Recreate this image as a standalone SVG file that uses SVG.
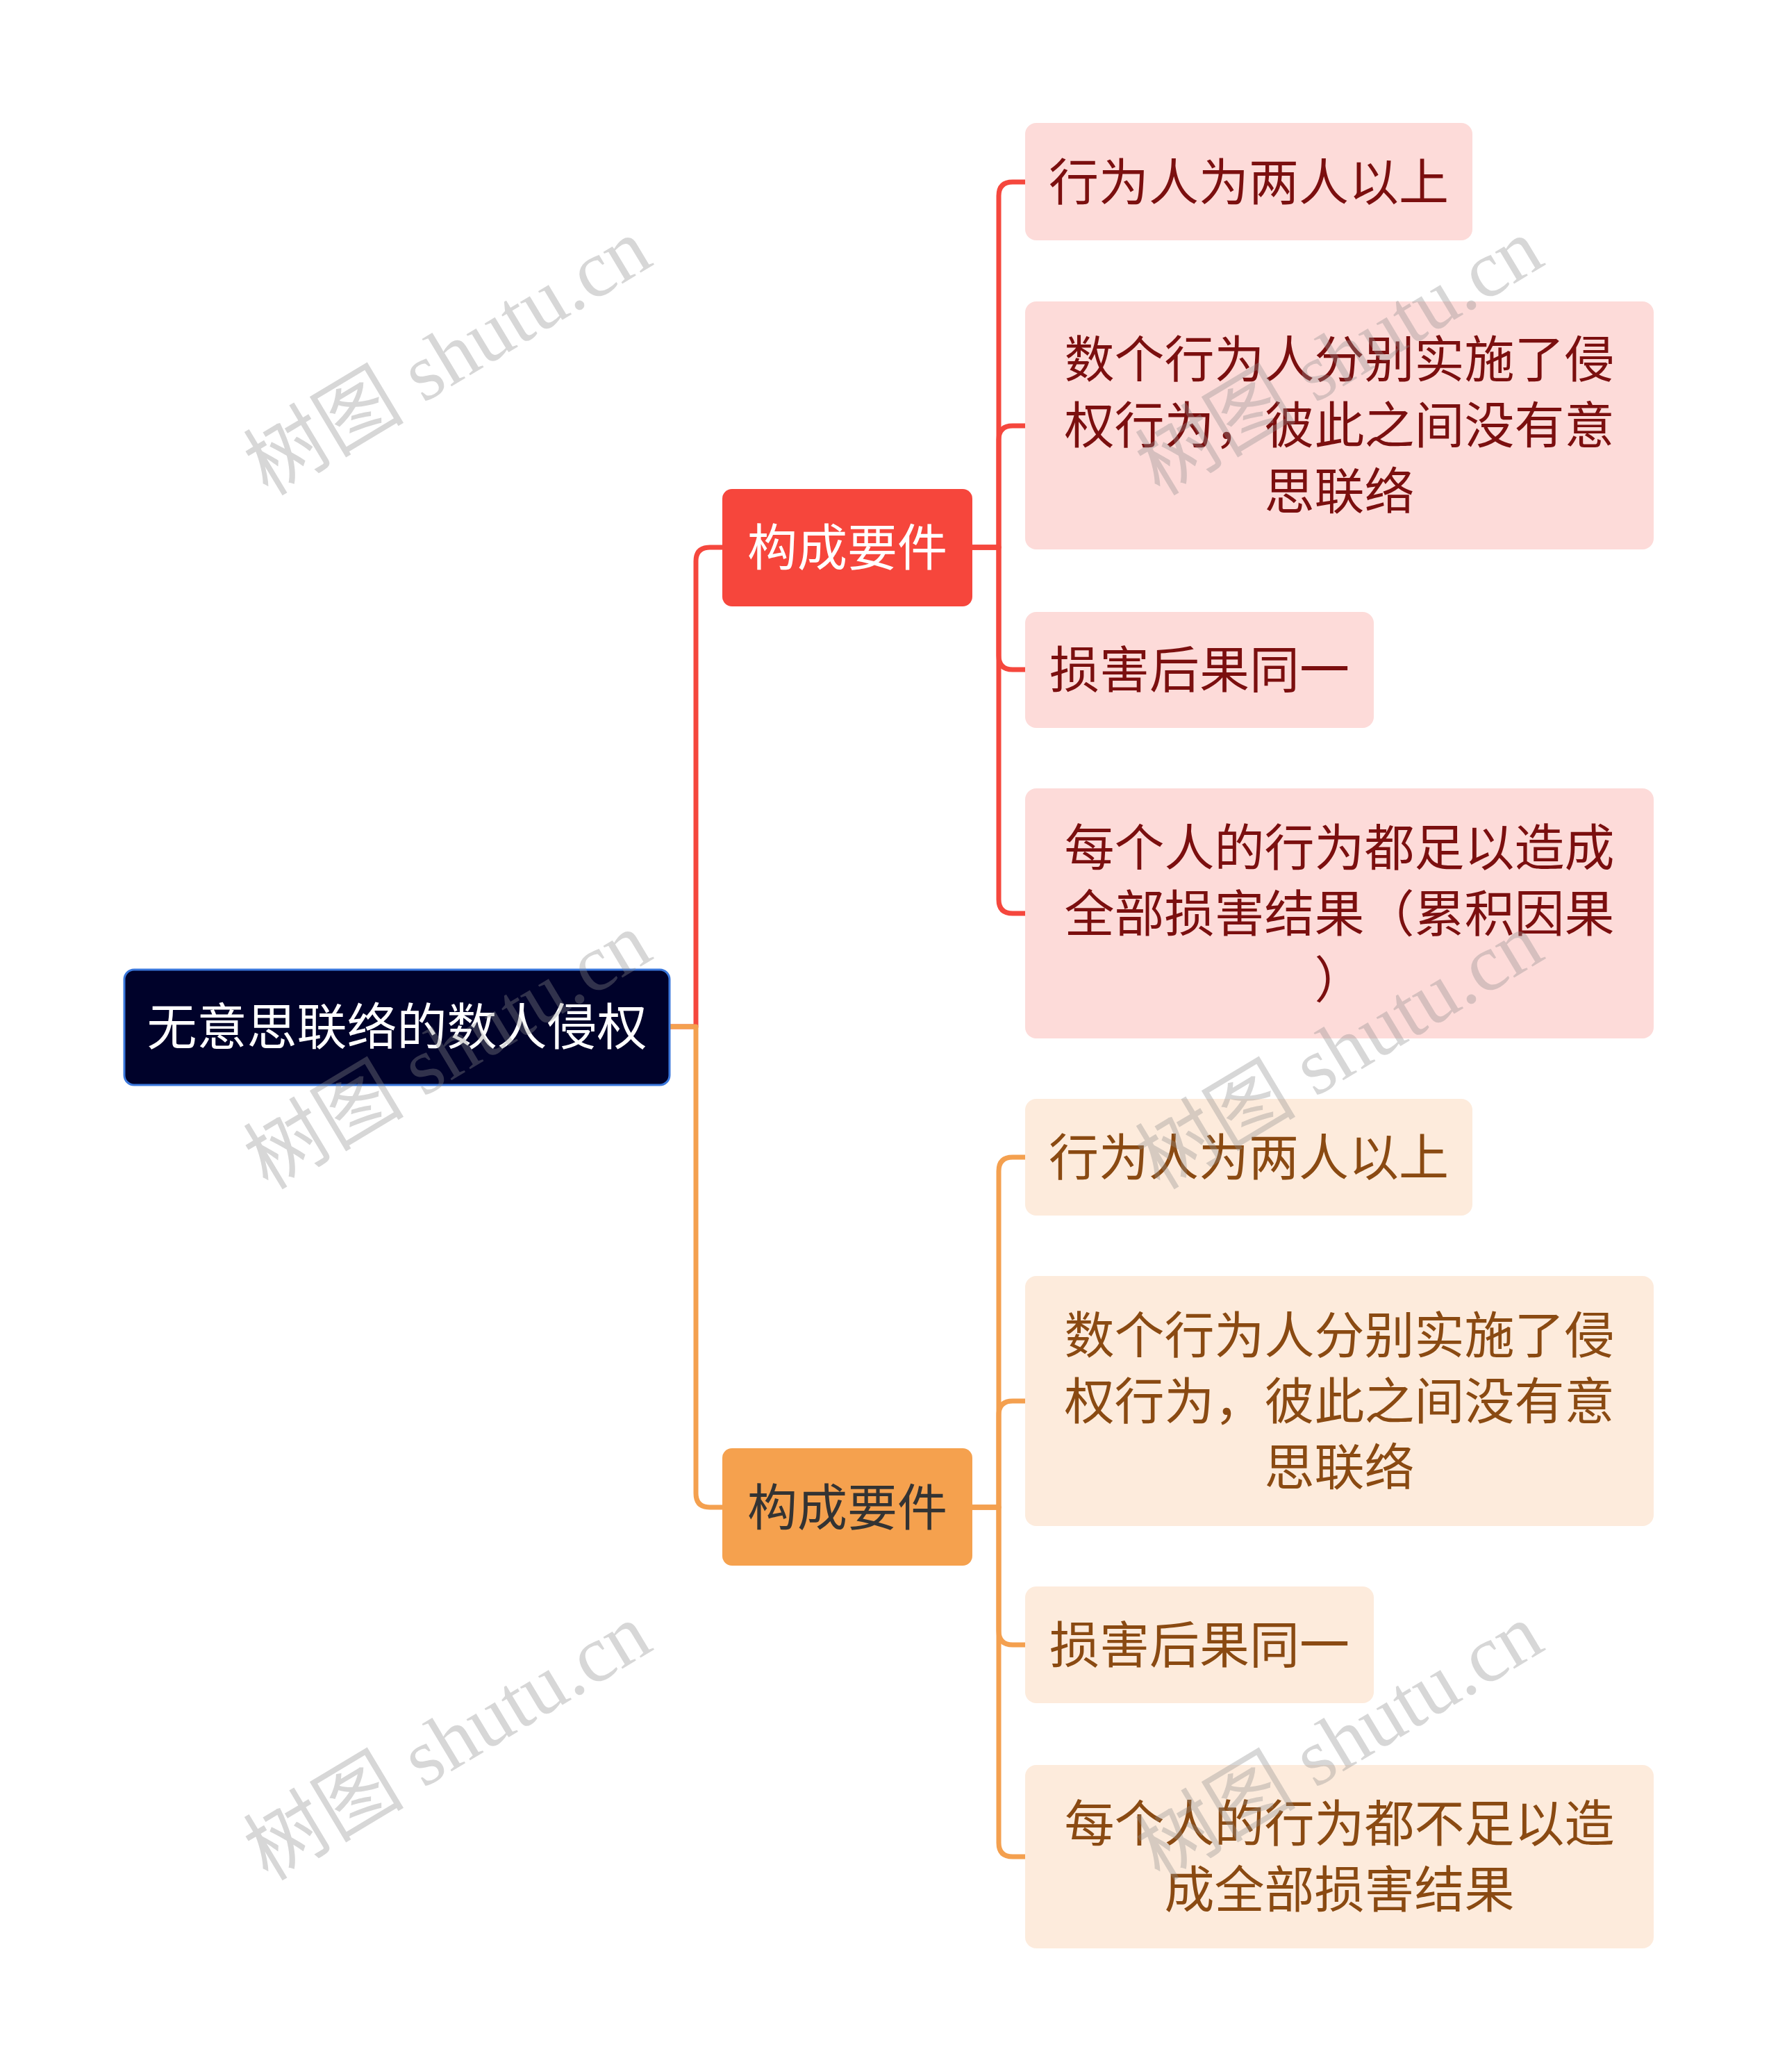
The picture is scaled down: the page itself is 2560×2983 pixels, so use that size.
<svg xmlns="http://www.w3.org/2000/svg" width="2560" height="2983" viewBox="0 0 2560 2983">
<style>
text{font-family:"Noto Sans CJK SC","Noto Sans",sans-serif;font-size:72px;text-anchor:middle}
.root rect{fill:#00022a;stroke:#3b78dc;stroke-width:3}
.root text{fill:#ffffff}
.l1r rect{fill:#f6463c}
.l1r text{fill:#ffffff}
.l1o rect{fill:#f5a14e}
.l1o text{fill:#333333}
.cr rect{fill:#fddbd9}
.cr text{fill:#7b0f0f}
.co rect{fill:#fdebdc}
.co text{fill:#8a4a12}
.lr{fill:none;stroke:#f5473d;stroke-width:7;stroke-linejoin:round}
.lo{fill:none;stroke:#f4a04f;stroke-width:7;stroke-linejoin:round}
.wm{font-family:"Liberation Serif","Noto Sans CJK SC",serif;font-size:116px;fill:#8c8c8c;fill-opacity:0.35;text-anchor:middle}
</style>
<rect width="2560" height="2983" fill="#ffffff"/>
<g id="connectors">
<path class="lr" d="M964 1478 H1002 V808 Q1002 788 1022 788 H1040"/>
<path class="lr" d="M1400 788 H1438 V282 Q1438 262 1458 262 H1476"/>
<path class="lr" d="M1400 788 H1438 V633 Q1438 613 1458 613 H1476"/>
<path class="lr" d="M1400 788 H1438 V944 Q1438 964 1458 964 H1476"/>
<path class="lr" d="M1400 788 H1438 V1295 Q1438 1315 1458 1315 H1476"/>
<path class="lo" d="M964 1478 H1002 V2150 Q1002 2170 1022 2170 H1040"/>
<path class="lo" d="M1400 2170 H1438 V1686 Q1438 1666 1458 1666 H1476"/>
<path class="lo" d="M1400 2170 H1438 V2037 Q1438 2017 1458 2017 H1476"/>
<path class="lo" d="M1400 2170 H1438 V2348 Q1438 2368 1458 2368 H1476"/>
<path class="lo" d="M1400 2170 H1438 V2653 Q1438 2673 1458 2673 H1476"/>
</g>
<g id="root" class="root">
<rect x="179" y="1396" width="785" height="166" rx="14"/>
<text x="571.5" y="1504">无意思联络的数人侵权</text>
</g>
<g id="n1" class="l1r">
<rect x="1040" y="704" width="360" height="169" rx="14"/>
<text x="1220" y="814">构成要件</text>
</g>
<g id="n1a" class="cr">
<rect x="1476" y="177" width="644" height="169" rx="16"/>
<text x="1798" y="288">行为人为两人以上</text>
</g>
<g id="n1b" class="cr">
<rect x="1476" y="434" width="905" height="357" rx="16"/>
<text x="1928.5" y="543">数个行为人分别实施了侵</text>
<text x="1928.5" y="638">权行为，彼此之间没有意</text>
<text x="1928.5" y="733">思联络</text>
</g>
<g id="n1c" class="cr">
<rect x="1476" y="881" width="502" height="167" rx="16"/>
<text x="1727" y="990">损害后果同一</text>
</g>
<g id="n1d" class="cr">
<rect x="1476" y="1135" width="905" height="360" rx="16"/>
<text x="1928.5" y="1246">每个人的行为都足以造成</text>
<text x="1928.5" y="1341">全部损害结果（累积因果</text>
<text x="1928.5" y="1436">）</text>
</g>
<g id="n2" class="l1o">
<rect x="1040" y="2085" width="360" height="169" rx="14"/>
<text x="1220" y="2196">构成要件</text>
</g>
<g id="n2a" class="co">
<rect x="1476" y="1582" width="644" height="168" rx="16"/>
<text x="1798" y="1692">行为人为两人以上</text>
</g>
<g id="n2b" class="co">
<rect x="1476" y="1837" width="905" height="360" rx="16"/>
<text x="1928.5" y="1948">数个行为人分别实施了侵</text>
<text x="1928.5" y="2043">权行为，彼此之间没有意</text>
<text x="1928.5" y="2138">思联络</text>
</g>
<g id="n2c" class="co">
<rect x="1476" y="2284" width="502" height="168" rx="16"/>
<text x="1727" y="2394">损害后果同一</text>
</g>
<g id="n2d" class="co">
<rect x="1476" y="2541" width="905" height="264" rx="16"/>
<text x="1928.5" y="2651">每个人的行为都不足以造</text>
<text x="1928.5" y="2746">成全部损害结果</text>
</g>
<g id="watermarks">
<text class="wm" transform="translate(645 515) rotate(-31)" y="38">树图 shutu.cn</text>
<text class="wm" transform="translate(1929 515) rotate(-31)" y="38">树图 shutu.cn</text>
<text class="wm" transform="translate(645 1514) rotate(-31)" y="38">树图 shutu.cn</text>
<text class="wm" transform="translate(1929 1514) rotate(-31)" y="38">树图 shutu.cn</text>
<text class="wm" transform="translate(645 2509) rotate(-31)" y="38">树图 shutu.cn</text>
<text class="wm" transform="translate(1929 2509) rotate(-31)" y="38">树图 shutu.cn</text>
</g>
</svg>
